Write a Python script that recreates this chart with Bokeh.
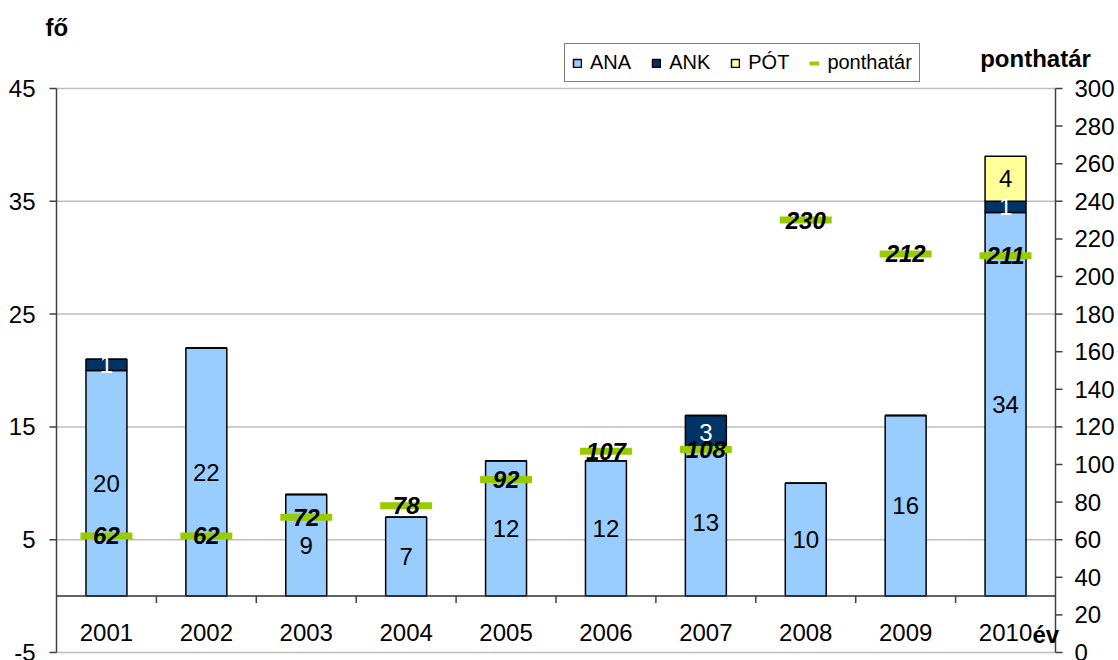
import math
from bokeh.plotting import figure
from bokeh.models import ColumnDataSource, Range1d, Label, Legend, LegendItem
from bokeh.core.properties import value
from bokeh.embed import file_html
from bokeh.resources import INLINE

years = ["2001", "2002", "2003", "2004", "2005", "2006", "2007", "2008", "2009", "2010"]
ana = [20, 22, 9, 7, 12, 12, 13, 10, 16, 34]
ank = [1, 0, 0, 0, 0, 0, 3, 0, 0, 1]
pot = [0, 0, 0, 0, 0, 0, 0, 0, 0, 4]
ponthatar = [62, 62, 72, 78, 92, 107, 108, 230, 212, 211]
left_ticks = [-5, 5, 15, 25, 35, 45]
right_ticks = list(range(0, 301, 20))

FONT = value("Liberation Sans")
FS = "24px"
AX = "#404040"
n = len(years)
xs = list(range(1, n + 1))

# ---- geometry (pixels); the frame covers the whole canvas ----
W, H = 1118, 660
PX_L, PX_R = 56, 1055          # plot area left / right
PX_T, PX_B = 88, 652           # plot area top / bottom
x0, x1 = 0.5, n + 0.5
l_lo, l_hi = left_ticks[0], left_ticks[-1]
r_lo, r_hi = right_ticks[0], right_ticks[-1]
sx = (PX_R - PX_L) / (x1 - x0)
sl = (PX_B - PX_T) / (l_hi - l_lo)
sr = (PX_B - PX_T) / (r_hi - r_lo)

def px2x(px):
    return x0 + (px - PX_L) / sx

def py2l(py):
    return l_lo + (PX_B - py) / sl

p = figure(width=W, height=H, output_backend="svg", toolbar_location=None,
           x_axis_type=None, y_axis_type=None,
           x_range=Range1d(px2x(0), px2x(W)), y_range=Range1d(py2l(H), py2l(0)),
           min_border=0)
p.extra_y_ranges = {"right": Range1d(r_lo - (H - PX_B) / sr, r_hi + PX_T / sr)}
p.outline_line_color = None
p.grid.visible = False
p.background_fill_color = "white"
p.border_fill_color = "white"

# ---- gridlines ----
p.segment(x0=[x0] * len(left_ticks), y0=left_ticks, x1=[x1] * len(left_ticks), y1=left_ticks,
          line_color="#BEBEBE", line_width=1.5)

# ---- bars ----
src = ColumnDataSource(dict(x=xs, ana=ana, ank=ank, pot=pot, pont=ponthatar,
                            pont_txt=[str(v) for v in ponthatar]))
bars = p.vbar_stack(["ana", "ank", "pot"], x="x", width=0.41, source=src,
                    fill_color=["#99CCFF", "#003366", "#FFFF99"],
                    line_color="black", line_width=1.5)

# ---- category axis at zero ----
p.segment(x0=[x0], y0=[0], x1=[x1], y1=[0], line_color="#303030", line_width=1.5)
sep = [i + 0.5 for i in range(1, n)]
p.ray(x=sep, y=[0] * len(sep), length=7, length_units="screen", angle=-math.pi / 2,
      line_color=AX, line_width=1.5)
p.text(x=xs, y=[-3.2] * n, text=years, text_font=FONT, text_font_size=FS,
       text_align="center", text_baseline="middle", text_color="black")

# ---- left value axis ----
p.segment(x0=[x0], y0=[l_lo], x1=[x0], y1=[l_hi], line_color=AX, line_width=1.5)
p.ray(x=[x0] * len(left_ticks), y=left_ticks, length=7, length_units="screen",
      angle=math.pi, line_color=AX, line_width=1.5)
p.text(x=[x0] * len(left_ticks), y=left_ticks, text=[str(t) for t in left_ticks],
       x_offset=-21, text_font=FONT, text_font_size=FS, text_align="right",
       text_baseline="middle", text_color="black")

# ---- right value axis ----
p.segment(x0=[x1], y0=[r_lo], x1=[x1], y1=[r_hi], y_range_name="right",
          line_color=AX, line_width=1.5)
p.ray(x=[x1] * len(right_ticks), y=right_ticks, length=7, length_units="screen",
      angle=0, y_range_name="right", line_color=AX, line_width=1.5)
p.text(x=[x1] * len(right_ticks), y=right_ticks, text=[str(t) for t in right_ticks],
       x_offset=19, y_range_name="right", text_font=FONT, text_font_size=FS,
       text_align="left", text_baseline="middle", text_color="black")

# ---- bar value labels ----
p.text(x=xs, y=[a / 2 for a in ana], text=[str(a) for a in ana], text_font=FONT,
       text_font_size=FS, text_align="center", text_baseline="middle", text_color="black")
kx = [x for x, k in zip(xs, ank) if k]
ky = [a + k / 2 for a, k in zip(ana, ank) if k]
kt = [str(k) for k in ank if k]
p.text(x=kx, y=ky, text=kt, text_font=FONT, text_font_size=FS,
       text_align="center", text_baseline="middle", text_color="white")
qx = [x for x, q in zip(xs, pot) if q]
qy = [a + k + q / 2 for a, k, q in zip(ana, ank, pot) if q]
qt = [str(q) for q in pot if q]
p.text(x=qx, y=qy, text=qt, text_font=FONT, text_font_size=FS,
       text_align="center", text_baseline="middle", text_color="black")

# ---- ponthatar markers ----
p.rect(x="x", y="pont", width=0.52, height=7, height_units="screen", source=src,
       y_range_name="right", fill_color="#99CC00", line_color=None)
p.text(x="x", y="pont", text="pont_txt", source=src, y_range_name="right",
       text_font=FONT, text_font_size=FS, text_font_style="bold italic",
       text_align="center", text_baseline="middle", text_color="black")

# ---- legend ----
leg_line = p.line(x=[float("nan")], y=[float("nan")], line_color="#99CC00", line_width=4)
legend = Legend(items=[LegendItem(label="ANA", renderers=[bars[0]]),
                       LegendItem(label="ANK", renderers=[bars[1]]),
                       LegendItem(label="PÓT", renderers=[bars[2]]),
                       LegendItem(label="ponthatár", renderers=[leg_line])],
                orientation="horizontal", location=(564, H - 82))
legend.label_text_font = "Liberation Sans"
legend.label_text_font_size = "20px"
legend.label_text_color = "black"
legend.glyph_width = 10
legend.glyph_height = 10
legend.label_standoff = 8
legend.spacing = 20
legend.padding = 7
legend.margin = 0
legend.border_line_color = "black"
legend.border_line_width = 1
legend.background_fill_alpha = 1
p.add_layout(legend, "center")

# ---- axis titles ----
for px, py, txt, align in [(45, 27, "fő", "left"), (1035, 58, "ponthatár", "center"),
                           (1032, 634, "év", "left")]:
    p.add_layout(Label(x=px2x(px), y=py2l(py), text=txt, text_font="Liberation Sans",
                       text_font_size=FS, text_font_style="bold", text_baseline="middle",
                       text_align=align, text_color="black"))

open("out.html", "w").write(file_html(p, INLINE))
